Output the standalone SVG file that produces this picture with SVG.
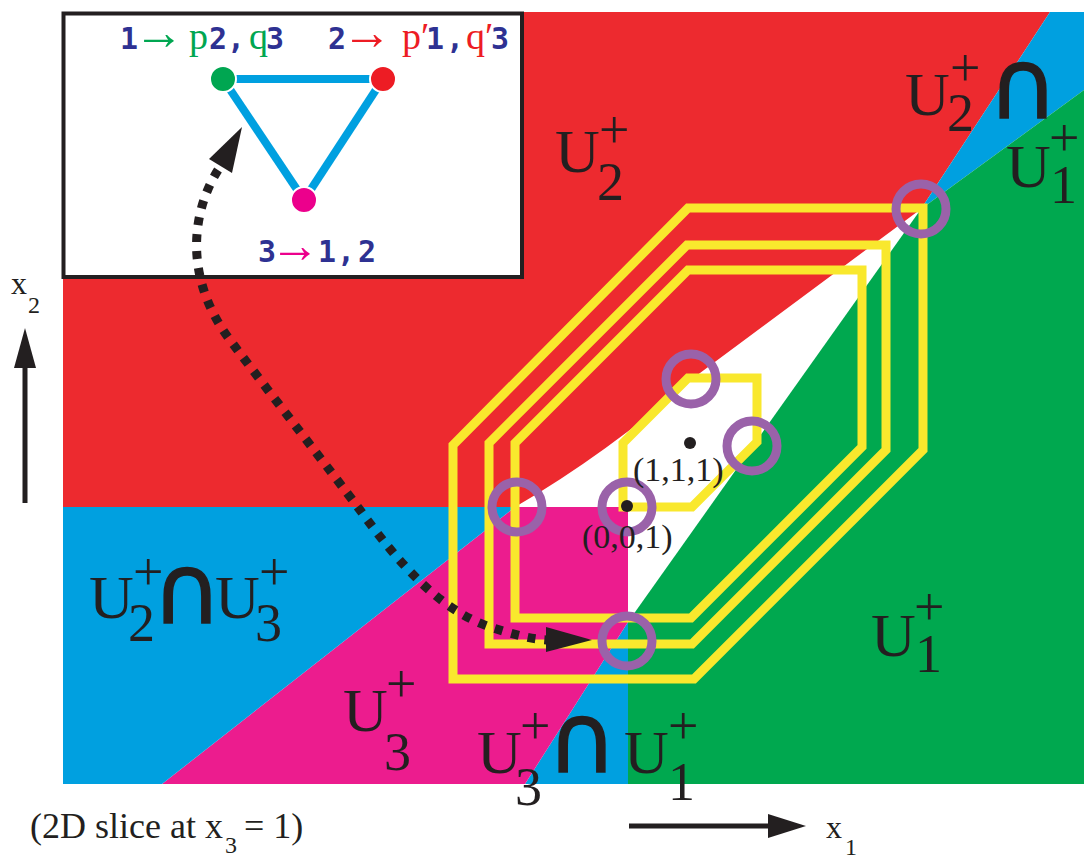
<svg xmlns="http://www.w3.org/2000/svg" width="1084" height="859" viewBox="0 0 1084 859">
<style>
.serif{font-family:"Liberation Serif","Times New Roman",serif;fill:#231f20}
.U{font-size:62px}
.s{font-size:54px}
.cap{font-family:"DejaVu Sans","Liberation Sans",sans-serif;font-weight:normal;font-size:96px;fill:#231f20;stroke:#231f20;stroke-width:1.5}
.hex{fill:none;stroke:#f9e82d;stroke-width:9;stroke-linejoin:miter}
.ring{fill:none;stroke:#9a62a9;stroke-width:9}
.mono{font-family:"DejaVu Sans Mono","Liberation Mono",monospace;font-weight:bold;font-size:30px;fill:#2e3192}
.pq{font-family:"Liberation Serif","DejaVu Serif",serif;font-weight:normal;font-size:38px}
.ar{font-family:"Liberation Serif","DejaVu Serif",serif;font-weight:normal;font-size:50px}
.edge{stroke:#00a0e0;stroke-width:8;stroke-linecap:butt}
.dot{stroke:#fff;stroke-width:2}
</style>
<rect width="1084" height="859" fill="#fff"/>
<g id="regions">
<rect x="63" y="12" width="1021" height="772" fill="#fff"/>
<path id="red-U2" d="M63,12 L1050,12 L921,209 L700,373 Q605,455 515,507 L63,507 Z" fill="#ed2a2f"/>
<path id="blue-U2U1" d="M1050,12 L1084,12 L1084,90 L921,209 Z" fill="#00a0e0"/>
<path id="green-U1" d="M1084,90 L1084,784 L628,784 L628,622 L921,209 Z" fill="#00a84f"/>
<path id="blue-U3U1" d="M525,784 L628,784 L628,622 Z" fill="#00a0e0"/>
<path id="pink-U3" d="M162,784 L525,784 L628,622 L628,507 L515,507 Z" fill="#ec1c8e"/>
<path id="blue-U2U3" d="M63,507 L515,507 L162,784 L63,784 Z" fill="#00a0e0"/>
</g>
<g id="inset">
<rect x="63.5" y="13.5" width="458.5" height="263.5" fill="#fff" stroke="#231f20" stroke-width="4"/>
</g>
<g id="inset-edges">
<line class="edge" x1="223" y1="79" x2="383" y2="79"/>
<line class="edge" x1="223" y1="79" x2="304" y2="200"/>
<line class="edge" x1="383" y1="79" x2="304" y2="200"/>
</g>
<g id="node1">
<circle class="dot" cx="223" cy="79" r="13" fill="#00a651"/>
<text class="mono" y="49"><tspan x="120">1</tspan><tspan class="ar" x="134" fill="#00a651">→</tspan><tspan class="pq" x="189" fill="#00a651">p</tspan><tspan x="209">2</tspan><tspan x="227">,</tspan><tspan class="pq" x="249" fill="#00a651">q</tspan><tspan x="266">3</tspan></text>
</g>
<g id="node2">
<circle class="dot" cx="383" cy="79" r="13" fill="#ed1c24"/>
<text class="mono" y="49"><tspan x="328">2</tspan><tspan class="ar" x="342" fill="#ed1c24">→</tspan><tspan class="pq" x="402" fill="#ed1c24">p′</tspan><tspan x="426">1</tspan><tspan x="446">,</tspan><tspan class="pq" x="466" fill="#ed1c24">q′</tspan><tspan x="491">3</tspan></text>
</g>
<g id="node3">
<circle class="dot" cx="304" cy="200" r="13" fill="#ec008c"/>
<text class="mono" y="262"><tspan x="258">3</tspan><tspan class="ar" x="270" fill="#ec008c">→</tspan><tspan x="318">1</tspan><tspan x="337">,</tspan><tspan x="358">2</tspan></text>
</g>
<g id="orbits">
<path class="hex" d="M453,679 L453,445 L688,208 L923,208 L923,450 L694,679 Z"/>
<path class="hex" d="M489,644 L489,443 L687,245 L886,245 L886,450 L692,644 Z"/>
<path class="hex" d="M515,618 L515,443 L688,270 L862,270 L862,447 L691,618 Z"/>
<path class="hex" d="M623,507 L623,443 L688,378 L757,378 L757,442 L692,507 Z"/>
</g>
<g id="connectors">
<path d="M218,170 C190,215 185,280 230,340 C275,400 330,470 360,510 C400,565 440,610 490,627 C515,635 530,639 548,640" fill="none" stroke="#231f20" stroke-width="9" stroke-dasharray="8 9"/>
<polygon points="242,127 209,159 232,173" fill="#231f20"/>
<polygon points="546,627 592,640 546,652" fill="#231f20"/>
</g>
<g id="rings">
<circle class="ring" cx="921" cy="209" r="25"/>
<circle class="ring" cx="691" cy="379" r="25"/>
<circle class="ring" cx="752" cy="446" r="25"/>
<circle class="ring" cx="627" cy="507" r="25"/>
<circle class="ring" cx="517" cy="507" r="25"/>
<circle class="ring" cx="627" cy="641" r="25"/>
</g>
<g id="points">
<circle cx="690" cy="443" r="6" fill="#231f20"/>
<circle cx="627" cy="506" r="6" fill="#231f20"/>
<text class="serif" x="633" y="481" font-size="34">(1,1,1)</text>
<text class="serif" x="582" y="548" font-size="34">(0,0,1)</text>
</g>
<g id="labels">
<g id="lab-U2">
<text class="serif U" x="555" y="172">U</text><text class="serif s" x="599" y="148">+</text><text class="serif s" x="597" y="200">2</text>
</g>
<g id="lab-U2capU1">
<text class="serif U" x="905" y="115">U</text><text class="serif s" x="950" y="86">+</text><text class="serif s" x="947" y="131">2</text>
<text class="cap" x="988" y="118">∩</text>
<text class="serif U" x="1006" y="187">U</text><text class="serif s" x="1049" y="156">+</text><text class="serif s" x="1050" y="203">1</text>
</g>
<g id="lab-U2capU3">
<text class="serif U" x="89" y="618">U</text><text class="serif s" x="133" y="590">+</text><text class="serif s" x="128" y="641">2</text>
<text class="cap" x="152" y="623">∩</text>
<text class="serif U" x="215" y="618">U</text><text class="serif s" x="259" y="590">+</text><text class="serif s" x="255" y="641">3</text>
</g>
<g id="lab-U3">
<text class="serif U" x="343" y="731">U</text><text class="serif s" x="386" y="702">+</text><text class="serif s" x="384" y="770">3</text>
</g>
<g id="lab-U3capU1">
<text class="serif U" x="477" y="773">U</text><text class="serif s" x="520" y="744">+</text><text class="serif s" x="515" y="805">3</text>
<text class="cap" x="547" y="772">∩</text>
<text class="serif U" x="624" y="773">U</text><text class="serif s" x="668" y="744">+</text><text class="serif s" x="668" y="800">1</text>
</g>
<g id="lab-U1">
<text class="serif U" x="871" y="656">U</text><text class="serif s" x="914" y="625">+</text><text class="serif s" x="915" y="672">1</text>
</g>
</g>
<g id="axes">
<line x1="25" y1="503" x2="25" y2="366" stroke="#231f20" stroke-width="5"/>
<polygon points="14,368 36,368 25,328" fill="#231f20"/>
<text class="serif" x="11" y="294" font-size="32">x</text><text class="serif" x="28" y="313" font-size="24">2</text>
<line x1="629" y1="826" x2="770" y2="826" stroke="#231f20" stroke-width="5"/>
<polygon points="768,814 768,838 806,826" fill="#231f20"/>
<text class="serif" x="826" y="838" font-size="32">x</text><text class="serif" x="845" y="855" font-size="24">1</text>
<text class="serif" x="30" y="838" font-size="36">(2D slice at x</text><text class="serif" x="225" y="853" font-size="24">3</text><text class="serif" x="244" y="838" font-size="36">= 1)</text>
</g>
</svg>
